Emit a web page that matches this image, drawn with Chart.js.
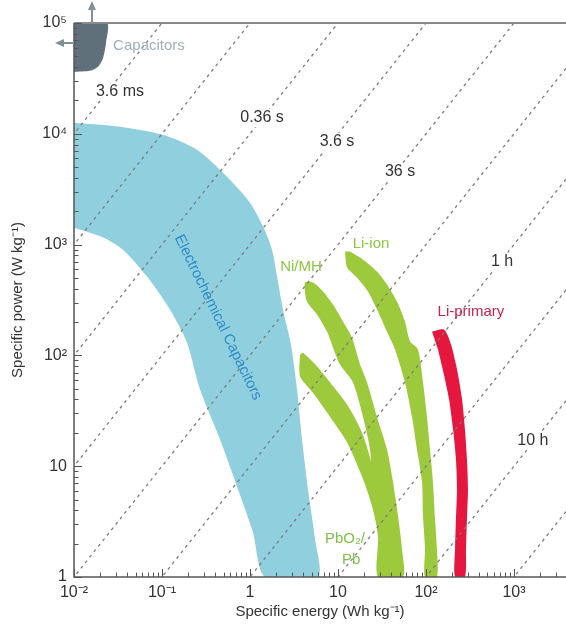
<!DOCTYPE html>
<html>
<head>
<meta charset="utf-8">
<script src="https://cdn.jsdelivr.net/npm/chart.js@4.4.1/dist/chart.umd.min.js"></script>
<style>
  html, body { margin: 0; padding: 0; background: #fff; }
  #wrap { width: 566px; height: 631px; }
</style>
</head>
<body>
<div id="wrap"><canvas id="ragone" width="566" height="631"></canvas></div>
<script>
// axes (specific energy Wh/kg on x, specific power W/kg on y)
const energyRange = [0.01, 3900];
const powerRange = [1, 1e5];
const xTickValues = [0.01, 0.1, 1, 10, 100, 1000];
const xTickLabels = ['10⁻²', '10⁻¹', '1', '10', '10²', '10³'];
const yTickValues = [1, 10, 100, 1000, 1e4, 1e5];
const yTickLabels = ['1', '10', '10²', '10³', '10⁴', '10⁵'];

// constant discharge-time lines (hours)
const timeHours = [1e-6, 1e-5, 1e-4, 1e-3, 1e-2, 1e-1, 1, 10, 100, 1000];
const timeLabels = ['3.6 ms', '0.36 s', '3.6 s', '36 s', '1 h', '10 h'];
const timeLabelEnergy = [0.0333, 1.37, 9.75, 50.7, 731, 1640];
const timeLabelPower = [23900, 13900, 8480, 4550, 703, 17.1];

// region outlines
const capacitorEnergy = [0.01, 0.0237, 0.0231, 0.0214, 0.0187, 0.0152, 0.01];
const capacitorPower = [1e5, 1e5, 66000, 48400, 40200, 37000, 36200];

const ecEnergy = [0.01, 0.0334, 0.1026, 0.25, 0.548, 1.0, 1.41, 1.78, 2.03, 2.37, 2.92, 3.42, 3.90, 4.56, 5.48, 5.93,
                  1.48, 1.08, 0.73, 0.456, 0.27, 0.192, 0.123, 0.0676, 0.036, 0.0214, 0.01];
const ecPower = [12600, 11600, 9800, 7180, 4100, 2390, 1450, 900, 515, 260, 126, 49.4, 17.5, 6.2, 2.2, 1,
                 1, 2.54, 6.2, 17.5, 49.4, 131, 260, 515, 900, 1160, 1420];

const leadNimhEnergy = [4.0, 5.77, 8.77, 13.0, 18.7, 24.3, 25.0, 23.1, 19.2, 14.8, 10.5, 8.77, 7.5, 5.77, 4.44, 4.21,
                        5.2, 6.76, 8.77, 11.4, 14.4, 17.8, 21.4, 27.7, 36.0, 42.2, 48.1, 53.4, 54.8,
                        28.5, 28.5, 24.3, 18.7, 12.7, 8.11, 5.2, 3.7, 3.7];
const leadNimhPower = [106, 80, 53, 35, 20.2, 10, 5.4, 14.2, 28, 57, 83, 118, 164, 234, 306, 455,
                       455, 378, 288, 202, 145, 83, 57, 28, 14.2, 7.2, 3.55, 1.79, 1,
                       1, 2.34, 4.4, 8.1, 16.4, 28, 46, 65, 102];

const liIonEnergy = [12.0, 12.7, 16.4, 21.9, 28.5, 36.0, 44.5, 57.7, 69.3, 79, 90.1, 92.5, 97.5, 97.5,
                     133, 133, 126, 120, 111, 102.6, 92.5, 81.1, 65.8, 57.7, 46.8, 36.0, 27.7, 19.2, 13.7];
const liIonPower = [865, 621, 505, 378, 249, 164, 113, 57, 28, 14.2, 7.2, 3.55, 1.79, 1,
                    1, 1.79, 3.55, 7.2, 14.2, 28, 57, 113, 134, 202, 306, 437, 571, 733, 865];

const liPrimaryEnergy = [117, 160, 192, 225, 257, 277, 292, 300, 292, 285, 277,
                         214, 214, 219, 225, 219, 203, 183, 160, 137];
const liPrimaryPower = [164, 171, 126, 75, 40, 21.5, 11.6, 6.2, 3.33, 1.79, 1,
                        1, 1.79, 3.33, 6.2, 11.6, 21.5, 40, 67, 113];

const FONT = "'Liberation Sans Narrow', 'Arial Narrow', 'Liberation Sans', Arial, sans-serif";
Chart.defaults.font.family = FONT;

function points(xs, ys) {
  return xs.map((x, i) => ({ x: x, y: ys[i] }));
}

function region(xs, ys, color) {
  return {
    data: points(xs, ys),
    backgroundColor: color,
    borderWidth: 0,
    pointRadius: 0,
    tension: 0.25,
    fill: 'shape'
  };
}

const timeLineSets = timeHours.map(t => ({
  data: [{ x: 1e-4, y: 1e-4 / t }, { x: 1e5, y: 1e5 / t }],
  borderColor: '#7b7b7b',
  borderWidth: 1.3,
  borderDash: [3, 4],
  pointRadius: 0,
  fill: false
}));

// annotation text placed at data positions
const notes = [
  { text: 'Capacitors', x: 0.0711, y: 62100, color: '#a3adb3' },
  { text: 'Ni/MH', x: 3.80, y: 634, color: '#8dc63f' },
  { text: 'Li-ion', x: 23.7, y: 1020, color: '#8dc63f' },
  { text: 'Li-primary', x: 324, y: 249, color: '#c8234b' },
  { text: 'PbO₂/', x: 12.0, y: 2.2, color: '#7fbf4a' },
  { text: 'Pb', x: 14.1, y: 1.42, color: '#7fbf4a' },
  { text: 'Electrochemical Capacitors', x: 0.433, y: 220, color: '#2d8bc9', angle: 64 }
];

function drawAxes(chart) {
  const { ctx, chartArea: a, scales } = chart;
  ctx.save();
  ctx.strokeStyle = '#8a8a8a';
  ctx.lineWidth = 2;
  ctx.beginPath();
  ctx.moveTo(a.left, a.top);
  ctx.lineTo(a.right, a.top);
  ctx.stroke();

  ctx.strokeStyle = '#555';
  ctx.lineWidth = 1.5;
  ctx.beginPath();
  ctx.moveTo(a.left, a.top);
  ctx.lineTo(a.left, a.bottom);
  ctx.lineTo(a.right, a.bottom);
  ctx.stroke();

  ctx.lineWidth = 1;
  const minor = [2, 3, 4, 5, 6, 7, 8, 9];
  const mark = (scale, v, len, horizontal) => {
    if (v < scale.min || v > scale.max) return;
    const p = Math.round(scale.getPixelForValue(v)) + 0.5;
    ctx.beginPath();
    if (horizontal) { ctx.moveTo(p, a.bottom); ctx.lineTo(p, a.bottom - len); }
    else { ctx.moveTo(a.left, p); ctx.lineTo(a.left + len, p); }
    ctx.stroke();
  };
  xTickValues.forEach(v => { mark(scales.x, v, 8, true); minor.forEach(m => mark(scales.x, v * m, 4.5, true)); });
  yTickValues.forEach(v => { mark(scales.y, v, 8, false); minor.forEach(m => mark(scales.y, v * m, 4.5, false)); });

  // arrows at the capacitor corner
  const ax = scales.x.getPixelForValue(0.016);
  const ay = scales.y.getPixelForValue(66000);
  ctx.strokeStyle = '#7f909a';
  ctx.fillStyle = '#7f909a';
  ctx.lineWidth = 2;
  ctx.beginPath();
  ctx.moveTo(ax, a.top);
  ctx.lineTo(ax, a.top - 14);
  ctx.moveTo(a.left, ay);
  ctx.lineTo(a.left - 12, ay);
  ctx.stroke();
  ctx.beginPath();
  ctx.moveTo(ax, a.top - 22);
  ctx.lineTo(ax - 4, a.top - 13);
  ctx.lineTo(ax + 4, a.top - 13);
  ctx.closePath();
  ctx.moveTo(a.left - 19, ay);
  ctx.lineTo(a.left - 10, ay - 4);
  ctx.lineTo(a.left - 10, ay + 4);
  ctx.closePath();
  ctx.fill();
  ctx.restore();
}

function drawNotes(chart) {
  const { ctx, scales } = chart;
  ctx.save();
  ctx.textAlign = 'center';
  ctx.textBaseline = 'middle';
  ctx.font = '16px ' + FONT;
  timeLabels.forEach((t, i) => {
    const px = scales.x.getPixelForValue(timeLabelEnergy[i]);
    const py = scales.y.getPixelForValue(timeLabelPower[i]);
    const w = ctx.measureText(t).width;
    ctx.fillStyle = '#fff';
    ctx.fillRect(px - w / 2 - 3, py - 9, w + 6, 18);
    ctx.fillStyle = '#333';
    ctx.fillText(t, px, py);
  });
  notes.forEach(n => {
    const px = scales.x.getPixelForValue(n.x);
    const py = scales.y.getPixelForValue(n.y);
    ctx.save();
    ctx.translate(px, py);
    if (n.angle) ctx.rotate(n.angle * Math.PI / 180);
    ctx.fillStyle = n.color;
    ctx.font = '15px ' + FONT;
    ctx.fillText(n.text, 0, 0);
    ctx.restore();
  });
  ctx.restore();
}

const decor = {
  id: 'decor',
  afterDatasetsDraw(chart) {
    drawAxes(chart);
    drawNotes(chart);
  }
};

new Chart(document.getElementById('ragone'), {
  type: 'line',
  data: {
    datasets: [
      ...timeLineSets,
      region(capacitorEnergy, capacitorPower, '#5f707b'),
      region(liPrimaryEnergy, liPrimaryPower, '#e5173f'),
      region(liIonEnergy, liIonPower, '#9dca3c'),
      region(leadNimhEnergy, leadNimhPower, '#9dca3c'),
      region(ecEnergy, ecPower, '#90d0de')
    ]
  },
  options: {
    responsive: false,
    animation: false,
    devicePixelRatio: 1,
    layout: { padding: { top: 23, right: 0, left: 0, bottom: 0 } },
    plugins: { legend: { display: false }, tooltip: { enabled: false } },
    scales: {
      x: {
        type: 'logarithmic',
        min: energyRange[0],
        max: energyRange[1],
        grid: { display: false, drawTicks: false },
        border: { display: false },
        afterBuildTicks: s => { s.ticks = xTickValues.map(v => ({ value: v })); },
        afterFit: s => { s.height = 54; },
        ticks: {
          autoSkip: false,
          maxRotation: 0,
          padding: 6,
          color: '#333',
          font: { size: 16 },
          callback: v => xTickLabels[xTickValues.indexOf(v)]
        },
        title: {
          display: true,
          text: 'Specific energy (Wh kg⁻¹)',
          color: '#333',
          font: { size: 15 },
          padding: { top: 0, bottom: 10 }
        }
      },
      y: {
        type: 'logarithmic',
        min: powerRange[0],
        max: powerRange[1],
        grid: { display: false, drawTicks: false },
        border: { display: false },
        afterBuildTicks: s => { s.ticks = yTickValues.map(v => ({ value: v })); },
        afterFit: s => { s.width = 74; },
        ticks: {
          autoSkip: false,
          padding: 7,
          color: '#333',
          font: { size: 16 },
          callback: v => yTickLabels[yTickValues.indexOf(v)]
        },
        title: {
          display: true,
          text: 'Specific power (W kg⁻¹)',
          color: '#333',
          font: { size: 15 },
          padding: { top: 9, bottom: 0 }
        }
      }
    }
  },
  plugins: [decor]
});
</script>
</body>
</html>
